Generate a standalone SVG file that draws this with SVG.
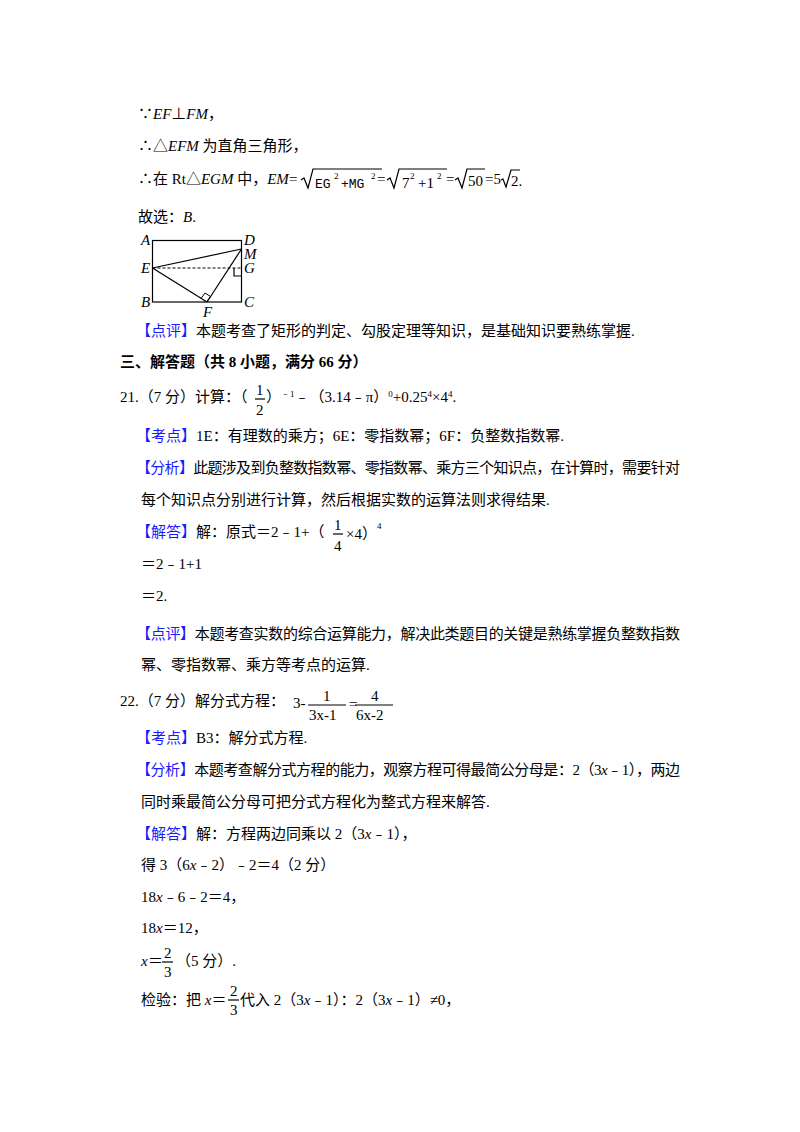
<svg xmlns="http://www.w3.org/2000/svg" width="800" height="1132" viewBox="0 0 800 1132">
<style>
text{font-family:"Liberation Serif","Noto Sans CJK SC",serif;font-size:15px;fill:#000}
.i{font-style:italic}
.b{fill:#1a1aff}
.h{font-weight:bold}
.m{font-family:"Liberation Mono","Noto Sans CJK SC",monospace;font-size:13px}
.s{font-size:9px}
.ln{stroke:#000;stroke-width:1.2;fill:none}
</style>
<rect width="800" height="1132" fill="#fff"/>
<text x="138" y="119">∵<tspan class="i">EF</tspan>⊥<tspan class="i">FM</tspan>，</text>
<text x="138" y="151">∴△<tspan class="i">EFM</tspan> 为直角三角形，</text>
<text x="138" y="184">∴在 Rt△<tspan class="i">EGM</tspan> 中，<tspan class="i">EM</tspan>=</text>
<g transform="translate(6,0)">
<path class="ln" d="M295,180 l3,-2 l4,10 l5,-19 h69"/>
<text class="m" x="309" y="188">EG</text><text class="s" x="328" y="179">2</text><text class="m" x="335" y="188">+MG</text><text class="s" x="365" y="179">2</text>
<text x="371" y="184">=</text>
<path class="ln" d="M381,180 l3,-2 l4,10 l5,-19 h48"/>
<text x="396" y="188">7</text><text class="s" x="404" y="179">2</text><text x="412" y="188">+1</text><text class="s" x="431" y="179">2</text>
<text x="440" y="184">=</text>
<path class="ln" d="M449,180 l3,-2 l4,10 l5,-19 h18"/>
<text x="462" y="186">50</text>
<text x="479" y="184">=5</text>
<path class="ln" d="M495,180 l2,-1 l3,8 l5,-17 h9"/>
<text x="505" y="186">2.</text>
</g>
<text x="138" y="222">故选：<tspan class="i">B</tspan>.</text>
<g id="figure">
<rect class="ln" x="152.5" y="240.5" width="89" height="61.5"/>
<line class="ln" x1="152.5" y1="268" x2="241.5" y2="249"/>
<line class="ln" x1="152.5" y1="268" x2="207" y2="302"/>
<line class="ln" x1="207" y1="302" x2="241.5" y2="249"/>
<line x1="152.5" y1="268" x2="241.5" y2="268" stroke="#000" stroke-width="1" stroke-dasharray="3,2"/>
<path class="ln" d="M234,268 v8 h7.5" stroke-width="1"/>
<path d="M201,298.5 l4,-5.5 l5.5,3.5 l-4,5.5" fill="none" stroke="#000" stroke-width="1"/>
<text class="i" x="141" y="245" font-size="13">A</text>
<text class="i" x="244" y="245" font-size="13">D</text>
<text class="i" x="244" y="259" font-size="13">M</text>
<text class="i" x="141" y="273" font-size="13">E</text>
<text class="i" x="244" y="273" font-size="13">G</text>
<text class="i" x="141" y="307" font-size="13">B</text>
<text class="i" x="244" y="307" font-size="13">C</text>
<text class="i" x="203" y="317" font-size="13">F</text>
</g>
<text x="136" y="336"><tspan class="b">【点评】</tspan>本题考查了矩形的判定、勾股定理等知识，是基础知识要熟练掌握.</text>
<text class="h" x="120" y="367">三、解答题（共 8 小题，满分 66 分）</text>
<text x="120" y="402">21.（7 分）计算：（</text>
<text x="256" y="395">1</text><line class="ln" x1="255" y1="399" x2="265" y2="399" stroke-width="1"/><text x="256" y="415">2</text>
<text x="266" y="402">）<tspan class="s" dy="-5">﹣1</tspan><tspan dy="5">﹣（3.14﹣π）</tspan><tspan class="s" dy="-5">0</tspan><tspan dy="5">+0.25</tspan><tspan class="s" dy="-5">4</tspan><tspan dy="5">×4</tspan><tspan class="s" dy="-5">4</tspan><tspan dy="5">.</tspan></text>
<text x="136" y="441"><tspan class="b">【考点】</tspan>1E：有理数的乘方；6E：零指数幂；6F：负整数指数幂.</text>
<text x="136" y="473" textLength="544"><tspan class="b">【分析】</tspan>此题涉及到负整数指数幂、零指数幂、乘方三个知识点，在计算时，需要针对</text>
<text x="141" y="505">每个知识点分别进行计算，然后根据实数的运算法则求得结果.</text>
<text x="136" y="537"><tspan class="b">【解答】</tspan>解：原式＝2﹣1+（</text>
<text x="334" y="530">1</text><line class="ln" x1="333" y1="534" x2="343" y2="534" stroke-width="1"/><text x="334" y="551">4</text>
<text x="346" y="539">×4）<tspan class="s" dy="-10">4</tspan></text>
<text x="141" y="569">＝2﹣1+1</text>
<text x="141" y="601">＝2.</text>
<text x="136" y="639" textLength="544"><tspan class="b">【点评】</tspan>本题考查实数的综合运算能力，解决此类题目的关键是熟练掌握负整数指数</text>
<text x="141" y="670">幂、零指数幂、乘方等考点的运算.</text>
<text x="120" y="706">22.（7 分）解分式方程：</text>
<g transform="translate(10,0)">
<text x="283" y="708" font-family="Liberation Sans" font-size="13">3-</text>
<text x="313" y="701" font-family="Liberation Sans" font-size="13">1</text>
<line class="ln" x1="298" y1="705" x2="336" y2="705" stroke-width="1"/>
<text x="299" y="720" font-family="Liberation Sans" font-size="13">3x-1</text>
<text x="339" y="709" font-family="Liberation Sans" font-size="11">=</text>
<text x="361" y="701" font-family="Liberation Sans" font-size="13">4</text>
<line class="ln" x1="345" y1="705" x2="383" y2="705" stroke-width="1"/>
<text x="346" y="720" font-family="Liberation Sans" font-size="13">6x-2</text>
</g>
<text x="136" y="743"><tspan class="b">【考点】</tspan>B3：解分式方程.</text>
<text x="136" y="775" textLength="544"><tspan class="b">【分析】</tspan>本题考查解分式方程的能力，观察方程可得最简公分母是：2（3<tspan class="i">x</tspan>﹣1），两边</text>
<text x="141" y="807">同时乘最简公分母可把分式方程化为整式方程来解答.</text>
<text x="136" y="839"><tspan class="b">【解答】</tspan>解：方程两边同乘以 2（3<tspan class="i">x</tspan>﹣1），</text>
<text x="141" y="870">得 3（6<tspan class="i">x</tspan>﹣2）﹣2＝4（2 分）</text>
<text x="141" y="902">18<tspan class="i">x</tspan>﹣6﹣2＝4，</text>
<text x="141" y="933">18<tspan class="i">x</tspan>＝12，</text>
<text class="i" x="141" y="966">x</text><text x="148" y="966">＝</text>
<text x="164" y="958" font-family="Liberation Sans" font-size="13">2</text><line class="ln" x1="162" y1="962" x2="173" y2="962" stroke-width="1"/><text x="164" y="977" font-family="Liberation Sans" font-size="13">3</text>
<text x="176" y="966">（5 分）.</text>
<text x="141" y="1005">检验：把 <tspan class="i">x</tspan>＝</text>
<text x="230" y="996" font-family="Liberation Sans" font-size="13">2</text><line class="ln" x1="228" y1="1000" x2="239" y2="1000" stroke-width="1"/><text x="230" y="1015" font-family="Liberation Sans" font-size="13">3</text>
<text x="240" y="1005">代入 2（3<tspan class="i">x</tspan>﹣1）：2（3<tspan class="i">x</tspan>﹣1）≠0，</text>
</svg>
